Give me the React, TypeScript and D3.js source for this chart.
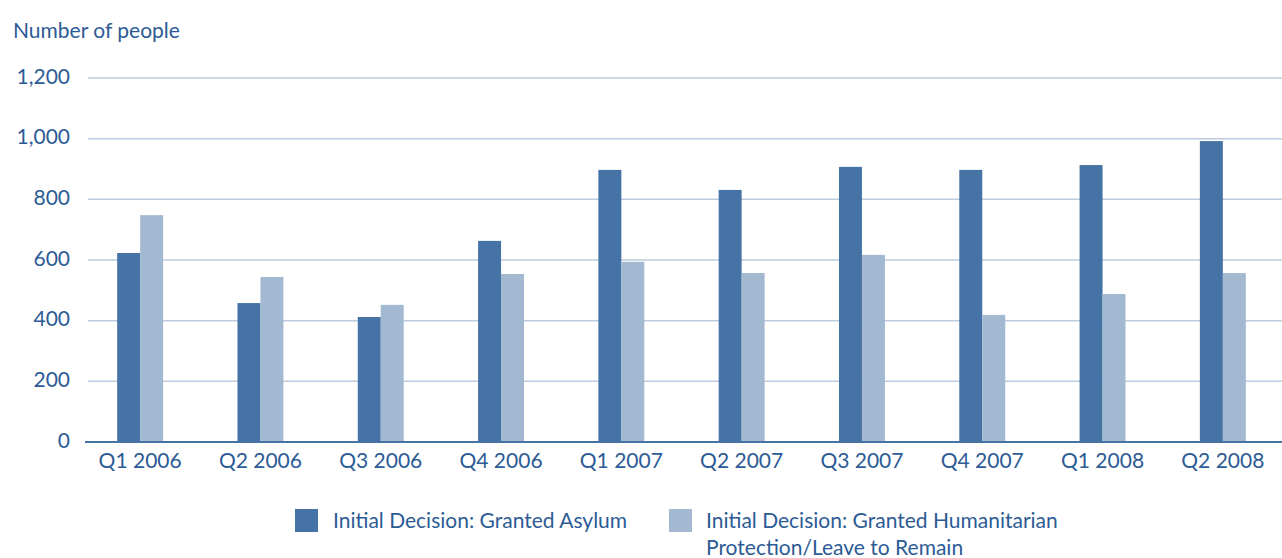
import React from "react";
import * as d3 from "d3";

const categories = ["Q1 2006","Q2 2006","Q3 2006","Q4 2006","Q1 2007","Q2 2007","Q3 2007","Q4 2007","Q1 2008","Q2 2008"];
const grantedAsylum = [623, 458, 412, 663, 897, 831, 907, 897, 913, 992];
const grantedHumanitarian = [748, 544, 452, 554, 594, 557, 617, 419, 488, 557];
const yTicks = [0, 200, 400, 600, 800, 1000, 1200];
const seriesNames = ["Initial Decision: Granted Asylum", "Initial Decision: Granted Humanitarian Protection/Leave to Remain"];

const W = 1282, H = 558;
const DARK = "#4573a5", LIGHT = "#a3b9d2", TEXT = "#2c5b95", GRID = "#bccbdd";
const FONT = "Lato, 'Open Sans', sans-serif";

export default function App() {
  const x = d3.scaleBand<string>().domain(categories).range([80, 1283]).paddingInner(0.618).paddingOuter(0.309);
  const sub = d3.scaleBand<string>().domain(["a","b"]).range([0, x.bandwidth()]);
  const y = d3.scaleLinear().domain([0, 1200]).range([442, 78]);
  const fmt = d3.format(",");
  return (
    <svg width={W} height={H} style={{position:"absolute", left:0, top:0, background:"#fff"}} fontFamily={FONT}>
      <text x={13} y={38} fontSize={21} fill={TEXT}>Number of people</text>
      {yTicks.map(t => (
        <g key={t}>
          {t > 0 && <line x1={88} x2={W} y1={y(t)} y2={y(t)} stroke={GRID} strokeWidth={1.5} />}
          <text x={70} y={y(t) + 5.5} textAnchor="end" fontSize={21} fill={TEXT}>{fmt(t)}</text>
        </g>
      ))}
      {categories.map((c, i) => (
        <g key={c}>
          <rect x={x(c)! + sub("a")!} width={sub.bandwidth()} y={y(grantedAsylum[i])} height={y(0) - y(grantedAsylum[i])} fill={DARK} />
          <rect x={x(c)! + sub("b")!} width={sub.bandwidth()} y={y(grantedHumanitarian[i])} height={y(0) - y(grantedHumanitarian[i])} fill={LIGHT} />
          <text x={x(c)! + x.bandwidth() / 2} y={468} textAnchor="middle" fontSize={21} fill={TEXT}>{c}</text>
        </g>
      ))}
      <line x1={85} x2={W} y1={y(0)} y2={y(0)} stroke={DARK} strokeWidth={2} />
      <rect x={295} y={509} width={23} height={23} fill={DARK} />
      <text x={333} y={528} fontSize={21} fill={TEXT}>{seriesNames[0]}</text>
      <rect x={669} y={509} width={23} height={23} fill={LIGHT} />
      <text x={706} y={528} fontSize={21} fill={TEXT}>
        <tspan x={706}>Initial Decision: Granted Humanitarian</tspan>
        <tspan x={706} dy={27}>Protection/Leave to Remain</tspan>
      </text>
    </svg>
  );
}
